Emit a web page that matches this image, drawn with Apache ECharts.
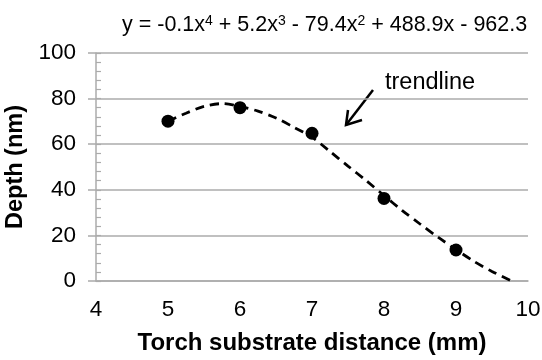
<!DOCTYPE html>
<html>
<head>
<meta charset="utf-8">
<script src="https://cdn.jsdelivr.net/npm/echarts@6/dist/echarts.min.js"></script>
<style>
  html, body { margin: 0; padding: 0; background: #fff; }
  #chart { width: 542px; height: 360px; }
</style>
</head>
<body>
<div id="chart"></div>
<script>
// measured points
var distance = [5, 6, 7, 8, 9];
var depth = [70.1, 76.0, 64.8, 36.2, 13.6];

// dashed trendline
var trendX = [5, 5.25, 5.5, 5.75, 6, 6.25, 6.5, 6.75, 7, 7.25, 7.5, 7.75, 8, 8.25, 8.5, 8.75, 9, 9.25, 9.5, 9.77];
var trendY = [70.1, 73.6, 76.6, 77.8, 76.6, 74.5, 71.5, 67.4, 63.1, 56.8, 50.4, 44.1, 37.5, 31.0, 25.0, 19.2, 13.8, 8.6, 4.2, 0];

var xTicks = [4, 5, 6, 7, 8, 9, 10];
var yTicks = [0, 20, 40, 60, 80, 100];

var font = '"Liberation Sans", Arial, sans-serif';
var grey = '#ababab';

var chart = echarts.init(document.getElementById('chart'));

chart.setOption({
    animation: false,
    grid: { left: 96, right: 14, top: 53, bottom: 79, outerBoundsMode: 'none' },
    xAxis: {
        type: 'value',
        min: xTicks[0],
        max: xTicks[xTicks.length - 1],
        interval: 1,
        name: 'Torch substrate distance (mm)',
        nameLocation: 'middle',
        nameGap: 50,
        nameTextStyle: { fontFamily: font, fontSize: 24, fontWeight: 'bold', color: '#000' },
        axisLine: { lineStyle: { color: grey, width: 1.5 } },
        axisTick: { show: false },
        splitLine: { show: false },
        axisLabel: { margin: 17, fontFamily: font, fontSize: 22.5, color: '#000' }
    },
    yAxis: [
        {
            type: 'value',
            min: yTicks[0],
            max: yTicks[yTicks.length - 1],
            interval: 20,
            name: 'Depth (nm)',
            nameLocation: 'middle',
            nameGap: 60,
            nameRotate: 90,
            nameTextStyle: { fontFamily: font, fontSize: 23.5, fontWeight: 'bold', color: '#000' },
            axisLine: { show: true, lineStyle: { color: grey, width: 1.5 } },
            axisTick: { show: true, length: 8, lineStyle: { color: grey, width: 1.5 } },
            splitLine: { show: true, lineStyle: { color: grey, width: 1.5 } },
            axisLabel: { margin: 20, fontFamily: font, fontSize: 22.5, color: '#000' }
        },
        {
            // second copy only for the inside minor ticks
            type: 'value',
            position: 'left',
            min: yTicks[0],
            max: yTicks[yTicks.length - 1],
            interval: 20,
            axisLine: { show: false },
            axisTick: { show: true, inside: true, length: 5, lineStyle: { color: grey, width: 1.2 } },
            minorTick: { show: true, splitNumber: 5, length: 5, lineStyle: { color: grey, width: 1.2 } },
            splitLine: { show: false },
            axisLabel: { show: false }
        }
    ],
    series: [
        {
            type: 'line',
            data: trendX.map(function (x, i) { return [x, trendY[i]]; }),
            smooth: 0.3,
            showSymbol: false,
            symbol: 'none',
            lineStyle: { color: '#000', width: 2.8, type: [9, 6] },
            z: 2
        },
        {
            type: 'scatter',
            data: distance.map(function (x, i) { return [x, depth[i]]; }),
            symbol: 'circle',
            symbolSize: 13,
            itemStyle: { color: '#000', opacity: 1 },
            z: 3
        }
    ],
    graphic: [
        {
            type: 'text',
            x: 122,
            y: 14,
            style: {
                text: '{n|y = -0.1x}{s|4}{n| + 5.2x}{s|3}{n| - 79.4x}{s|2}{n| + 488.9x - 962.3}',
                fill: '#000',
                rich: {
                    n: { fontFamily: font, fontSize: 21.5, lineHeight: 25, verticalAlign: 'top', fill: '#000' },
                    s: { fontFamily: font, fontSize: 14, lineHeight: 17, verticalAlign: 'top', fill: '#000' }
                }
            }
        },
        {
            type: 'text',
            x: 385,
            y: 71,
            style: { text: 'trendline', fontFamily: font, fontSize: 23.5, fill: '#000' }
        },
        {
            type: 'line',
            shape: { x1: 373, y1: 90, x2: 346, y2: 125 },
            style: { stroke: '#000', lineWidth: 2.5 }
        },
        {
            type: 'polyline',
            shape: { points: [[348, 110], [346, 125], [362, 120]] },
            style: { stroke: '#000', lineWidth: 2.5, fill: null }
        }
    ]
});
</script>
</body>
</html>
